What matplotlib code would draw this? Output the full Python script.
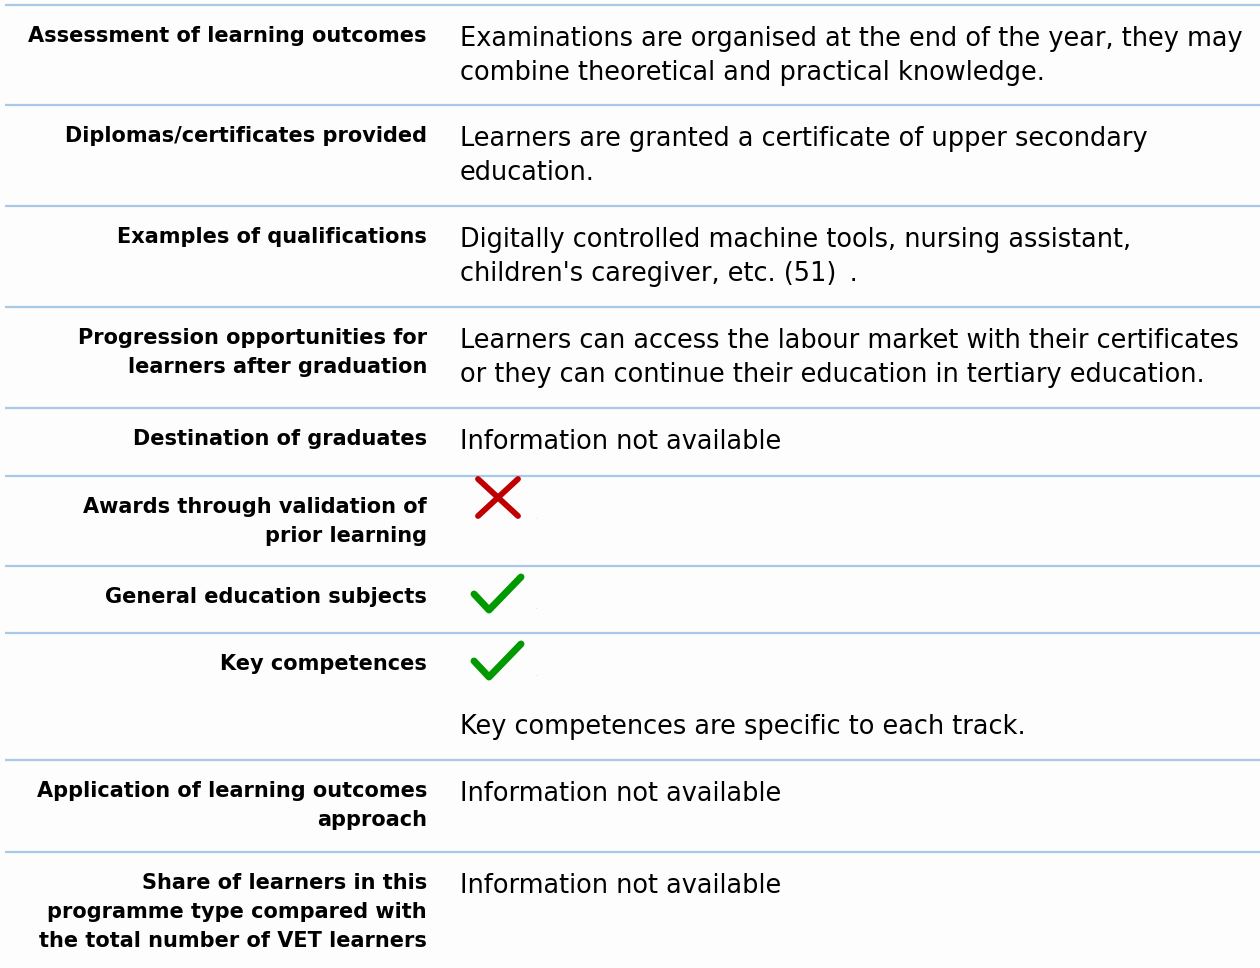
import matplotlib.pyplot as plt

labels = [
    'Assessment of learning outcomes',
    'Diplomas/certificates provided',
    'Examples of qualifications',
    'Progression opportunities for\nlearners after graduation',
    'Destination of graduates',
    'Awards through validation of\nprior learning',
    'General education subjects',
    'Key competences',
    'Application of learning outcomes\napproach',
    'Share of learners in this\nprogramme type compared with\nthe total number of VET learners',
]
values = [
    'Examinations are organised at the end of the year, they may\ncombine theoretical and practical knowledge.',
    'Learners are granted a certificate of upper secondary\neducation.',
    "Digitally controlled machine tools, nursing assistant,\nchildren's caregiver, etc. (51)\u2009 .",
    'Learners can access the labour market with their certificates\nor they can continue their education in tertiary education.',
    'Information not available',
    '',
    '',
    'Key competences are specific to each track.',
    'Information not available',
    'Information not available',
]
icons = [None, None, None, None, None, 'no', 'yes', 'yes', None, None]

# layout (pixels)
row_tops = [5, 105, 206, 307, 408, 476, 566, 633, 760, 852]
W, H = 1260, 968
line_col = '#a9c9e9'

fig = plt.figure(figsize=(W / 100, H / 100), dpi=100, facecolor='#fdfdfd')
ax = fig.add_axes([0, 0, 1, 1])
ax.set_xlim(0, W)
ax.set_ylim(H, 0)
ax.axis('off')

for top in row_tops:
    ax.plot([5, W], [top, top], color=line_col, lw=1.6, solid_capstyle='butt')

for top, lab, val, icon in zip(row_tops, labels, values, icons):
    for i, ln in enumerate(lab.split('\n')):
        ax.text(427, top + 37 + 29 * i, ln, ha='right', va='baseline',
                fontsize=15, fontweight='bold', color='black')
    off = 41
    if icon == 'no':
        ax.plot([478, 518], [top + 3, top + 40], color='#c00000', lw=4.2, solid_capstyle='round')
        ax.plot([518, 478], [top + 3, top + 40], color='#c00000', lw=4.2, solid_capstyle='round')
    elif icon == 'yes':
        ax.plot([474, 489, 521], [top + 28, top + 44, top + 11], color='#009900', lw=5,
                solid_capstyle='round', solid_joinstyle='round')
    if icon:
        ax.text(537, top + 42, '-', fontsize=3, color='#999999', ha='center', va='center')
        off = 101
    if val:
        for i, ln in enumerate(val.split('\n')):
            ax.text(460, top + off + 34 * i, ln, ha='left', va='baseline',
                    fontsize=18.45, color='black')

fig.savefig('out.png', dpi=100, facecolor=fig.get_facecolor())
